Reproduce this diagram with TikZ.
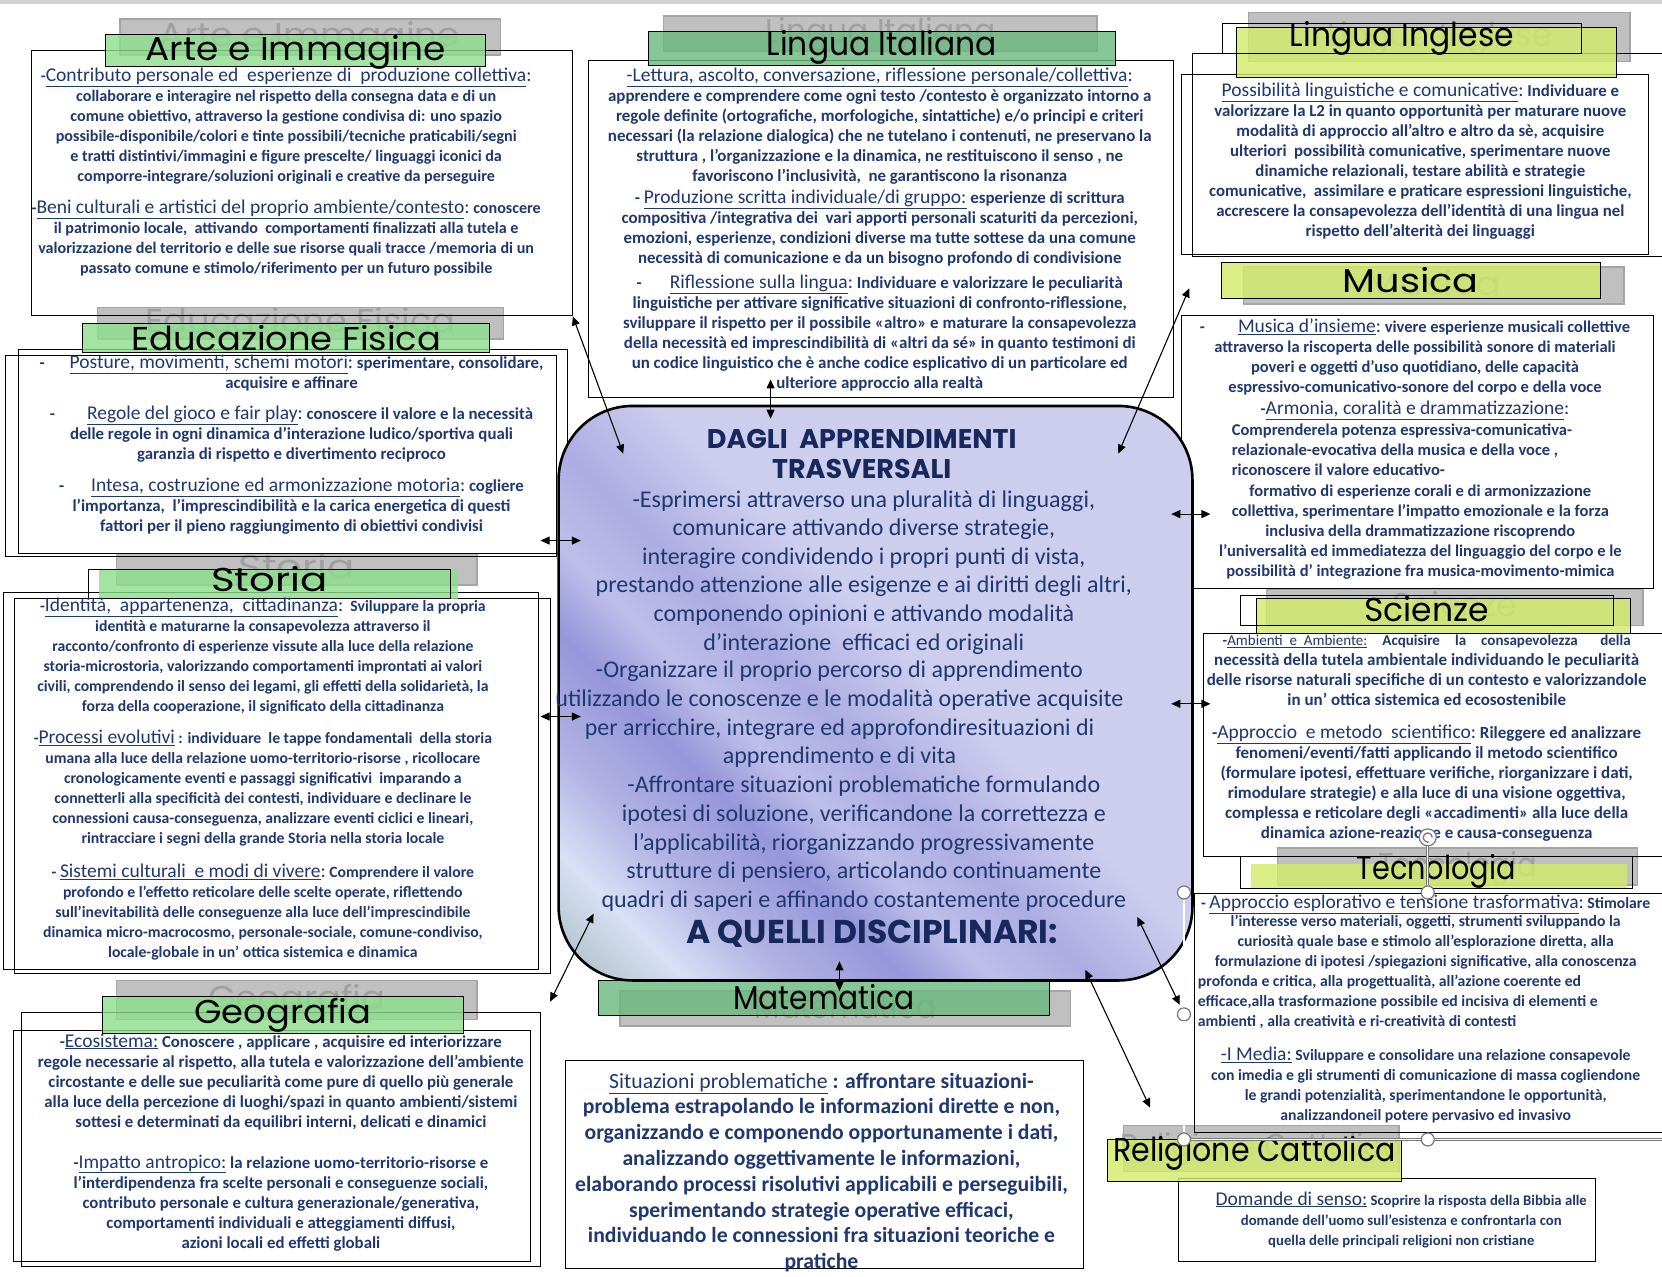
\documentclass[tikz,border=0pt]{standalone}
\usepackage{fontspec}
\setmainfont{Carlito}
\newfontfamily\comicfont{Poppins}
\usepackage{graphicx}
\usepackage{tikz}
\usetikzlibrary{arrows.meta, fit}

\definecolor{navy}{RGB}{31,56,112}
\definecolor{deepnavy}{RGB}{22,40,92}
\definecolor{titlegreen}{RGB}{140,222,140}
\definecolor{seagreen}{RGB}{105,185,125}
\definecolor{titlelime}{RGB}{212,236,105}
\definecolor{shadowgray}{RGB}{192,192,192}
\definecolor{shadowline}{RGB}{165,165,165}
\definecolor{shadowtext}{RGB}{160,160,160}
\definecolor{handlegray}{RGB}{120,120,120}
\definecolor{corefog}{RGB}{155,180,172}
\definecolor{coremist}{RGB}{190,204,216}
\definecolor{corelight}{RGB}{216,224,246}
\definecolor{coremid}{RGB}{178,178,228}
\definecolor{corepurple}{RGB}{150,150,218}
\definecolor{corepale}{RGB}{190,190,234}
\definecolor{coremidtwo}{RGB}{172,172,227}
\definecolor{corelav}{RGB}{205,205,238}

\pgfdeclarehorizontalshading{lavstreak}{100bp}{color(0bp)=(corefog); color(14bp)=(corefog);
  color(18bp)=(coremist); color(22bp)=(corelight); color(28bp)=(coremid);
  color(35bp)=(corepurple); color(40bp)=(corepale); color(46bp)=(coremidtwo);
  color(54bp)=(corelav); color(100bp)=(corelav)}

\newcommand\titlefont{\comicfont\fontsize{33}{35}\selectfont}
\newcommand\bfs[1]{\fontsize{#1}{20}\selectfont\bfseries}
\newcommand\hd[1]{{\fontsize{19.5}{20}\selectfont\mdseries\underline{#1}}}
\newcommand\hc{{\fontsize{19.5}{20}\selectfont\mdseries:}}
\newcommand\hds[1]{{\mdseries\underline{#1}}}
\newcommand\ttl[3][-9.5pt]{\makebox[0pt]{\smash{\raisebox{#1}{\scalebox{#2}[1]{#3}}}}}

\tikzset{
  panel/.style       = {rectangle, draw=black, line width=0.9pt, inner sep=0pt},
  outline/.style     = {rectangle, draw=black, line width=0.9pt, inner sep=0pt, font=\titlefont},
  shadowtitle/.style = {rectangle, draw=shadowline, fill=shadowgray, line width=1.5pt,
                        text=shadowtext, font=\titlefont, inner sep=0pt},
  greentitle/.style  = {rectangle, draw=black, line width=1pt, fill=titlegreen,
                        fill opacity=0.8, text opacity=1, font=\titlefont, inner sep=0pt},
  seatitle/.style    = {greentitle, fill=seagreen},
  limetitle/.style   = {greentitle, fill=titlelime},
  bodytext/.style    = {align=center, text=navy, font=\bfs{16.5}, inner sep=0pt, anchor=north},
  lefttext/.style    = {bodytext, align=left, anchor=north west},
  corebox/.style     = {rectangle, rounded corners=74pt, draw=black, line width=2.6pt,
                        shade, shading=lavstreak, shading angle=45, inner sep=0pt},
  corehead/.style    = {align=center, text=deepnavy, inner sep=0pt,
                        font=\comicfont\bfseries\fontsize{27}{30}\selectfont},
  coretext/.style    = {align=center, text=navy, inner sep=0pt,
                        font=\fontsize{24}{28.6}\selectfont},
  link/.style        = {{Triangle[length=9pt,width=8pt]}-{Triangle[length=9pt,width=8pt]},
                        line width=1.1pt},
  handle/.style      = {circle, draw=handlegray, fill=white, line width=1.2pt,
                        minimum size=13pt, inner sep=0pt},
  selframe/.style    = {draw=handlegray, line width=0.7pt, double=white, double distance=1.4pt},
}

\begin{document}
\begin{tikzpicture}[x=1.06pt, y=-1.06pt]
  \useasboundingbox (0,0) rectangle (1568,1204);
  \fill[white] (0,0) rectangle (1568,1204);
  \fill[shadowgray!70] (0,0) rectangle (1568,4);

  % grey shadow titles
  \node[shadowtitle, fit={(113,18) (472,52)}] (arteS) {\ttl{1.09}{Arte e Immagine}};
  \node[shadowtitle, fit={(626,15) (1035,48)}] (itaS) {\ttl{0.95}{Lingua Italiana}};
  \node[shadowtitle, fit={(1178,12) (1538,58)}] (ingS) {\ttl{0.95}{Lingua Inglese}};
  \node[shadowtitle, fit={(92,290) (475,320)}] (eduS) {\ttl{1.07}{Educazione Fisica}};
  \node[shadowtitle, fit={(1173,252) (1532,287)}] (musS) {\ttl{1.16}{Musica}};
  \node[shadowtitle, fit={(110,522) (450,552)}] (stoS) {\ttl{1.22}{Storia}};
  \node[shadowtitle, fit={(1195,556) (1550,590)}] (sciS) {\ttl{1.0}{Scienze}};
  \node[shadowtitle, fit={(1205,800) (1545,835)}] (tecS) {\ttl{0.87}{Tecnologia}};
  \node[shadowtitle, fit={(110,925) (450,962)}] (geoS) {\ttl{1.07}{Geografia}};
  \node[shadowtitle, fit={(585,935) (1010,968)}] (matS) {\ttl{0.9}{Matematica}};
  \node[shadowtitle, fit={(1060,1062) (1320,1105)}] (relS) {\ttl{0.91}{Religione Cattolica}};

  % text panels
  \node[panel, fit={(30,48) (540,298)}] (arteB) {};
  \node[panel, fit={(555,57) (1107,375)}] (itaB) {};
  \node[panel, fit={(1125,50) (1580,242)}] (ingB) {};
  \node[panel, fit={(1115,70) (1555,240)}] (ingBB) {};
  \node[panel, fit={(17,330) (535,522)}] (eduB) {};
  \node[panel, fit={(5,335) (525,525)}] (eduBB) {};
  \node[panel, fit={(1115,298) (1560,555)}] (musB) {};
  \node[panel, fit={(3,559) (508,915)}] (stoB) {};
  \node[panel, fit={(14,565) (519,918)}] (stoBB) {};
  \node[panel, fit={(1135,598) (1580,808)}] (sciB) {};
  \node[panel, fit={(1127,843) (1580,1068)}] (tecB) {};
  \node[panel, fit={(20,955) (510,1195)}] (geoB) {};
  \node[panel, fit={(13,972) (500,1190)}] (geoBB) {};
  \node[panel, fit={(533,1000) (1022,1197)}] (matB) {};
  \node[panel, fit={(1112,1112) (1505,1190)}] (relB) {};

  % coloured titles
  \node[greentitle, fit={(100,33) (458,63)}] (arteT) {\ttl{1.09}{Arte e Immagine}};
  \node[seatitle, fit={(612,30) (1052,62)}] (itaT) {\ttl[-6.5pt]{0.95}{Lingua Italiana}};
  \node[limetitle, fit={(1167,26) (1525,73)}] (ingT) {};
  \node[outline, fit={(1153,22) (1492,50)}] (ingF) {\ttl[-8.5pt]{0.95}{Lingua Inglese}};
  \node[greentitle, fit={(78,305) (462,333)}] (eduT) {\ttl[-12pt]{1.07}{Educazione Fisica}};
  \node[limetitle, fit={(1152,248) (1510,282)}] (musT) {\ttl[-11.5pt]{1.16}{Musica}};
  \node[greentitle, draw=none, fit={(93,537) (432,565)}] (stoT) {};
  \node[outline, fit={(83,537) (425,565)}] (stoF) {\ttl[-7.5pt]{1.22}{Storia}};
  \node[limetitle, fit={(1185,565) (1538,598)}] (sciT) {};
  \node[outline, fit={(1170,562) (1522,590)}] (sciF) {\ttl[-10.5pt]{1.0}{Scienze}};
  \node[limetitle, draw=none, fit={(1180,815) (1535,838)}] (tecT) {};
  \node[outline, fit={(1170,808) (1540,838)}] (tecF) {\ttl[-7.5pt]{0.87}{Tecnologia}};
  \node[greentitle, fit={(97,940) (437,975)}] (geoT) {\ttl[-8.5pt]{1.07}{Geografia}};
  \node[seatitle, fit={(565,925) (990,958)}] (matT) {\ttl[-11.5pt]{0.9}{Matematica}};
  \node[limetitle, fit={(1045,1075) (1322,1115)}] (relT) {\ttl[-1pt]{0.91}{Religione Cattolica}};

  % central box
  \node[corebox, fit={(527,383) (1125,925)}] (core) {};
  \node[corehead] (coreH) at (813,428) {DAGLI\ \ APPRENDIMENTI\\TRASVERSALI};
  \node[coretext] (coreXa) at (815,540) {-Esprimersi attraverso una pluralità di linguaggi,\\
    comunicare attivando diverse strategie,\\
    interagire condividendo i propri punti di vista,\\
    prestando attenzione alle esigenze e ai diritti degli altri,\\
    componendo opinioni e attivando modalità\\
    d’interazione\ \ efficaci ed originali};
  \node[coretext] (coreXb) at (792,674) {-Organizzare il proprio percorso di apprendimento\\
    utilizzando le conoscenze e le modalità operative acquisite\\
    per arricchire, integrare ed approfondiresituazioni di\\
    apprendimento e di vita};
  \node[coretext] (coreXc) at (815,796) {-Affrontare situazioni problematiche formulando\\
    ipotesi di soluzione, verificandone la correttezza e\\
    l’applicabilità, riorganizzando progressivamente\\
    strutture di pensiero, articolando continuamente\\
    quadri di saperi e affinando costantemente procedure};
  \node[corehead, font=\comicfont\bfseries\fontsize{33}{35}\selectfont] (coreF) at (823,881) {A QUELLI DISCIPLINARI:};

  % texts
  \node[bodytext, font=\bfs{16.1}] (arteX) at (270,64) {-\hd{Contributo personale ed\ \ esperienze di\ \ produzione collettiva}\hc\\
    collaborare e interagire nel rispetto della consegna data e di un\\
    comune obiettivo, attraverso la gestione condivisa di: uno spazio\\
    possibile-disponibile/colori e tinte possibili/tecniche praticabili/segni\\
    e tratti distintivi/immagini e figure prescelte/ linguaggi iconici da\\
    comporre-integrare/soluzioni originali e creative da perseguire\\[12pt]
    -\hd{Beni culturali e artistici del proprio ambiente/contesto}\hc\ conoscere\\
    il patrimonio locale,\ \ attivando\ \ comportamenti finalizzati alla tutela e\\
    valorizzazione del territorio e delle sue risorse quali tracce /memoria di un\\
    passato comune e stimolo/riferimento per un futuro possibile};

  \node[bodytext, font=\bfs{16.9}] (itaX) at (830,64) {\hd{-Lettura, ascolto, conversazione, riflessione personale/collettiva}\hc\\
    apprendere e comprendere come ogni testo /contesto è organizzato intorno a\\
    regole definite (ortografiche, morfologiche, sintattiche) e/o principi e criteri\\
    necessari (la relazione dialogica) che ne tutelano i contenuti, ne preservano la\\
    struttura , l’organizzazione e la dinamica, ne restituiscono il senso , ne\\
    favoriscono l’inclusività,\ \ ne garantiscono la risonanza\\[2pt]
    - \hd{Produzione scritta individuale/di gruppo:} esperienze di scrittura\\
    compositiva /integrativa dei\ \ vari apporti personali scaturiti da percezioni,\\
    emozioni, esperienze, condizioni diverse ma tutte sottese da una comune\\
    necessità di comunicazione e da un bisogno profondo di condivisione\\[5pt]
    -\hspace{28pt}\hd{Riflessione sulla lingua}\hc\ Individuare e valorizzare le peculiarità\\
    linguistiche per attivare significative situazioni di confronto-riflessione,\\
    sviluppare il rispetto per il possibile «altro» e maturare la consapevolezza\\
    della necessità ed imprescindibilità di «altri da sé» in quanto testimoni di\\
    un codice linguistico che è anche codice esplicativo di un particolare ed\\
    ulteriore approccio alla realtà};

  \node[bodytext, font=\bfs{16.8}] (ingX) at (1340,78) {\hd{Possibilità linguistiche e comunicative}\hc\ Individuare e\\
    valorizzare la L2 in quanto opportunità per maturare nuove\\
    modalità di approccio all’altro e altro da sè, acquisire\\
    ulteriori\ \ possibilità comunicative, sperimentare nuove\\
    dinamiche relazionali, testare abilità e strategie\\
    comunicative,\ \ assimilare e praticare espressioni linguistiche,\\
    accrescere la consapevolezza dell’identità di una lingua nel\\
    rispetto dell’alterità dei linguaggi};

  \node[bodytext, font=\bfs{16.8}] (eduX) at (275,335) {-\hspace{25pt}\hd{Posture, movimenti, schemi motori}\hc\ sperimentare, consolidare,\\
    acquisire e affinare\\[11pt]
    -\hspace{32pt}\hd{Regole del gioco e fair play}\hc\ conoscere il valore e la necessità\\
    delle regole in ogni dinamica d’interazione ludico/sportiva quali\\
    garanzia di rispetto e divertimento reciproco\\[12pt]
    -\hspace{27pt}\hd{Intesa, costruzione ed armonizzazione motoria}\hc\ cogliere\\
    l’importanza,\ \ l’imprescindibilità e la carica energetica di questi\\
    fattori per il pieno raggiungimento di obiettivi condivisi};

  \node[bodytext] (musX) at (1335,301) {-\hspace{33pt}\hd{Musica d’insieme}\hc\ vivere esperienze musicali collettive\\
    attraverso la riscoperta delle possibilità sonore di materiali\\
    poveri e oggetti d’uso quotidiano, delle capacità\\
    espressivo-comunicativo-sonore del corpo e della voce\\[2pt]
    -\hd{Armonia, coralità e drammatizzazione}\hc};
  \node[lefttext] (musXX) at (1162,400) {Comprenderela potenza espressiva-comunicativa-\\
    relazionale-evocativa della musica e della voce ,\\
    riconoscere il valore educativo-};
  \node[bodytext] (musXXX) at (1340,457) {formativo di esperienze corali e di armonizzazione\\
    collettiva, sperimentare l’impatto emozionale e la forza\\
    inclusiva della drammatizzazione riscoprendo\\
    l’universalità ed immediatezza del linguaggio del corpo e le\\
    possibilità d’ integrazione fra musica-movimento-mimica};

  \node[bodytext, font=\bfs{15.7}] (stoX) at (248,564) {-\hd{Identità,\ \ appartenenza,\ \ cittadinanza}\hc\ \ Sviluppare la propria\\
    identità e maturarne la consapevolezza attraverso il\\
    racconto/confronto di esperienze vissute alla luce della relazione\\
    storia-microstoria, valorizzando comportamenti improntati ai valori\\
    civili, comprendendo il senso dei legami, gli effetti della solidarietà, la\\
    forza della cooperazione, il significato della cittadinanza\\[12pt]
    -\hd{Processi evolutivi} : individuare\ \ le tappe fondamentali\ \ della storia\\
    umana alla luce della relazione uomo-territorio-risorse , ricollocare\\
    cronologicamente eventi e passaggi significativi\ \ imparando a\\
    connetterli alla specificità dei contesti, individuare e declinare le\\
    connessioni causa-conseguenza, analizzare eventi ciclici e lineari,\\
    rintracciare i segni della grande Storia nella storia locale\\[14pt]
    - \hd{Sistemi culturali\ \ e modi di vivere}\hc\ Comprendere il valore\\
    profondo e l’effetto reticolare delle scelte operate, riflettendo\\
    sull’inevitabilità delle conseguenze alla luce dell’imprescindibile\\
    dinamica micro-macrocosmo, personale-sociale, comune-condiviso,\\
    locale-globale in un’ ottica sistemica e dinamica};

  \node[bodytext, font=\bfs{17}] (sciX) at (1346,599) {{\bfs{15}\makebox[408pt][s]{-\hds{Ambienti\ \ e\ \ Ambiente:}\ \ Acquisire\ \ la\ \ consapevolezza\ \ \ della}}\\
    necessità della tutela ambientale individuando le peculiarità\\
    delle risorse naturali specifiche di un contesto e valorizzandole\\
    in un’ ottica sistemica ed ecosostenibile\\[13pt]
    -\hd{Approccio\ \ e metodo\ \ scientifico}\hc\ Rileggere ed analizzare\\
    fenomeni/eventi/fatti applicando il metodo scientifico\\
    (formulare ipotesi, effettuare verifiche, riorganizzare i dati,\\
    rimodulare strategie) e alla luce di una visione oggettiva,\\
    complessa e reticolare degli «accadimenti» alla luce della\\
    dinamica azione-reazione e causa-conseguenza};

  \node[lefttext, font=\bfs{15.7}] (tecXL) at (1133,844) {- \hd{Approccio esplorativo e tensione trasformativa}\hc\ Stimolare};
  \node[bodytext, font=\bfs{15.7}] (tecX) at (1345,863) {l’interesse verso materiali, oggetti, strumenti sviluppando la\\
    curiosità quale base e stimolo all’esplorazione diretta, alla\\
    formulazione di ipotesi /spiegazioni significative, alla conoscenza};
  \node[lefttext, font=\bfs{15.7}] (tecXX) at (1130,920) {profonda e critica, alla progettualità, all’azione coerente ed\\
    efficace,alla trasformazione possibile ed incisiva di elementi e\\
    ambienti , alla creatività e ri-creatività di contesti};
  \node[bodytext, font=\bfs{15.7}] (tecXXX) at (1345,988) {\hd{-I Media:} Sviluppare e consolidare una relazione consapevole\\
    con imedia e gli strumenti di comunicazione di massa cogliendone\\
    le grandi potenzialità, sperimentandone le opportunità,\\
    analizzandoneil potere pervasivo ed invasivo};

  \node[bodytext, font=\bfs{16.8}] (geoX) at (265,975) {-\hd{Ecosistema:} Conoscere , applicare , acquisire ed interiorizzare\\
    regole necessarie al rispetto, alla tutela e valorizzazione dell’ambiente\\
    circostante e delle sue peculiarità come pure di quello più generale\\
    alla luce della percezione di luoghi/spazi in quanto ambienti/sistemi\\
    sottesi e determinati da equilibri interni, delicati e dinamici\\[21pt]
    -\hd{Impatto antropico:} la relazione uomo-territorio-risorse e\\
    l’interdipendenza fra scelte personali e conseguenze sociali,\\
    contributo personale e cultura generazionale/generativa,\\
    comportamenti individuali e atteggiamenti diffusi,\\
    azioni locali ed effetti globali};

  \node[bodytext, font=\fontsize{21.7}{25.8}\selectfont\bfseries] (matX) at (775,1012) {{\mdseries\underline{Situazioni problematiche}} : affrontare situazioni-\\
    problema estrapolando le informazioni dirette e non,\\
    organizzando e componendo opportunamente i dati,\\
    analizzando oggettivamente le informazioni,\\
    elaborando processi risolutivi applicabili e perseguibili,\\
    sperimentando strategie operative efficaci,\\
    individuando le connessioni fra situazioni teoriche e\\
    pratiche};

  \node[bodytext, font=\bfs{14.7}] (relX) at (1322,1124) {\hd{Domande di senso:} Scoprire la risposta della Bibbia alle\\
    domande dell'uomo sull’esistenza e confrontarla con\\
    quella delle principali religioni non cristiane};

  % arrows
  \coordinate (pArte) at (588,428);
  \coordinate (pItaUp) at (727,358);
  \coordinate (pItaDn) at (727,395);
  \coordinate (pIngUp) at (1122,272);
  \coordinate (pIngDn) at (1055,428);
  \coordinate (pEduL) at (510,510);
  \coordinate (pEduR) at (548,510);
  \coordinate (pStoL) at (510,676);
  \coordinate (pStoR) at (548,676);
  \coordinate (pMusL) at (1105,485);
  \coordinate (pMusR) at (1142,485);
  \coordinate (pSciL) at (1105,664);
  \coordinate (pSciR) at (1142,664);
  \coordinate (pGeoUp) at (560,862);
  \coordinate (pGeoDn) at (519,945);
  \coordinate (pMatUp) at (792,907);
  \coordinate (pMatDn) at (792,935);
  \coordinate (pTecUp) at (1073,865);
  \coordinate (pTecDn) at (1113,948);
  \coordinate (pRelUp) at (1024,915);
  \coordinate (pRelDn) at (1085,1045);
  \draw[link] (arteB.south east) -- (pArte);
  \draw[link] (pItaUp) -- (pItaDn);
  \draw[link] (pIngUp) -- (pIngDn);
  \draw[link] (pEduL) -- (pEduR);
  \draw[link] (pStoL) -- (pStoR);
  \draw[link] (pMusL) -- (pMusR);
  \draw[link] (pSciL) -- (pSciR);
  \draw[link] (pGeoUp) -- (pGeoDn);
  \draw[link] (pMatUp) -- (pMatDn);
  \draw[link] (pTecUp) -- (pTecDn);
  \draw[link] (pRelUp) -- (pRelDn);

  % selection handles
  \node[handle] (hTL) at (1117,842) {};
  \node[handle] (hTM) at (1347,842) {};
  \node[handle] (hML) at (1117,957) {};
  \node[handle] (hBL) at (1117,1075) {};
  \node[handle] (hBM) at (1347,1075) {};
  \node[handle, minimum size=17pt] (hRot) at (1347,790) {};
  \coordinate (hBR) at (1580,1075);
  \draw[selframe] (hTL) -- (hML) -- (hBL) -- (hBM) -- (hBR);
  \draw[selframe] (hTM) -- (hRot);
  \draw[handlegray, line width=1.3pt, -{Stealth[length=3pt]}]
    ([shift={(4.5pt,0pt)}]hRot.center) arc[start angle=0, end angle=290, radius=4.5pt];
\end{tikzpicture}
\end{document}
